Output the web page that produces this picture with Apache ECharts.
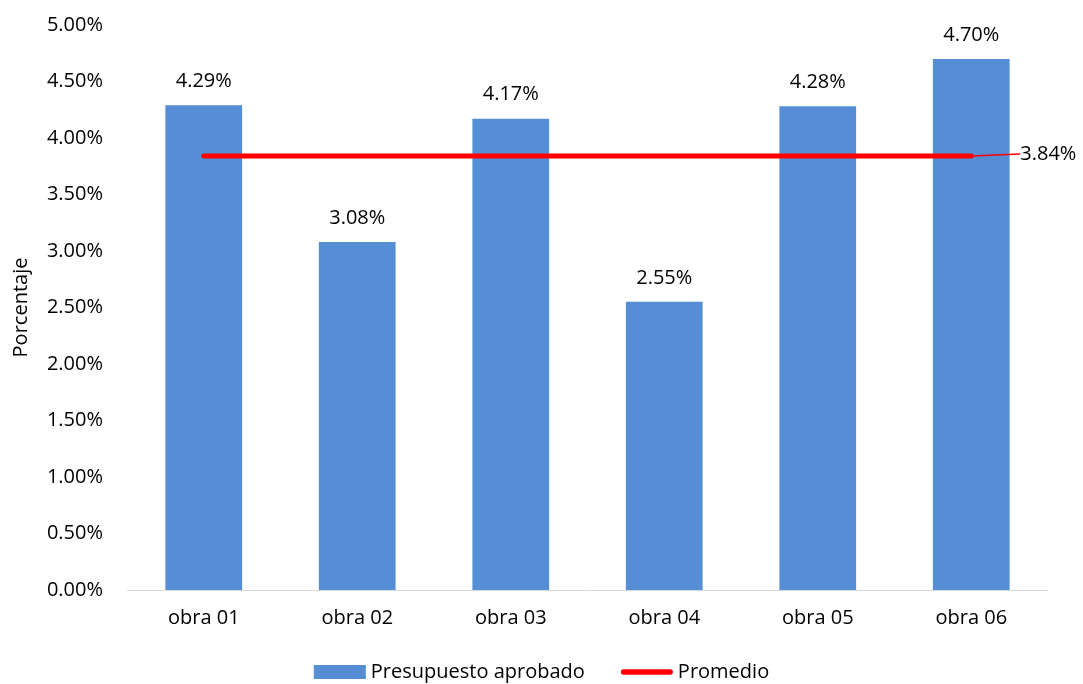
<!DOCTYPE html>
<html><head><meta charset="utf-8">
<script src="https://cdn.jsdelivr.net/npm/echarts@6/dist/echarts.min.js"></script>
<style>html,body{margin:0;padding:0;background:#fff}#c{width:1083px;height:684px}</style>
</head><body><div id="c"></div>
<script>
const categories = ['obra 01','obra 02','obra 03','obra 04','obra 05','obra 06'];
const presupuesto = [4.29, 3.08, 4.17, 2.55, 4.28, 4.70];
const promedio = [3.84, 3.84, 3.84, 3.84, 3.84, 3.84];
const yTicks = {min: 0, max: 5, interval: 0.5};
const FONT = 'Open Sans';
const FS = 20;
const chart = echarts.init(document.getElementById('c'));
chart.setOption({
  animation: false,
  textStyle: {fontFamily: FONT},
  grid: {left: 127, right: 35, top: 25, bottom: 94},
  legend: {
    bottom: -3, left: 'center', itemGap: 36, itemWidth: 52, itemHeight: 14,
    textStyle: {fontSize: FS, color: '#000', fontFamily: FONT},
    data: [
      {name: 'Presupuesto aprobado', icon: 'rect'},
      {name: 'Promedio', icon: 'path://M3,0 h52 a3,3 0 0 1 0,6 h-52 a3,3 0 0 1 0,-6 z'}
    ]
  },
  xAxis: {
    type: 'category', data: categories,
    axisLine: {lineStyle: {color: '#d9d9d9', width: 1}},
    axisTick: {show: false},
    axisLabel: {color: '#000', fontSize: FS, margin: 18, fontFamily: FONT}
  },
  yAxis: {
    type: 'value', min: yTicks.min, max: yTicks.max, interval: yTicks.interval,
    name: 'Porcentaje', nameLocation: 'middle', nameGap: 96, nameRotate: 90,
    nameTextStyle: {fontSize: FS, color: '#000', fontFamily: FONT},
    splitLine: {show: false}, axisLine: {show: false}, axisTick: {show: false},
    axisLabel: {color: '#000', fontSize: FS, margin: 24, fontFamily: FONT,
      formatter: v => v.toFixed(2) + '%'}
  },
  series: [
    {
      name: 'Presupuesto aprobado', type: 'bar', data: presupuesto, barWidth: '50%',
      itemStyle: {color: '#558ed5'},
      label: {show: true, position: 'top', distance: 14, fontSize: FS, color: '#000', fontFamily: FONT,
        formatter: p => p.value.toFixed(2) + '%'}
    },
    {
      name: 'Promedio', type: 'line',
      data: promedio.map((v, i) => i === promedio.length - 1 ? {value: v, label: {show: true}} : v),
      symbol: 'circle', symbolSize: 0.01, showSymbol: true,
      lineStyle: {color: '#ff0000', width: 5, cap: 'round'},
      itemStyle: {color: '#ff0000'},
      label: {show: false, position: 'right', distance: 5, fontSize: FS, color: '#000', fontFamily: FONT,
        formatter: p => p.value.toFixed(2) + '%'},
      labelLayout: {dx: 44, dy: -2},
      labelLine: {show: true, lineStyle: {color: '#ff0000', width: 1.5}},
      emphasis: {disabled: true},
      z: 5
    }
  ]
});
</script></body></html>
